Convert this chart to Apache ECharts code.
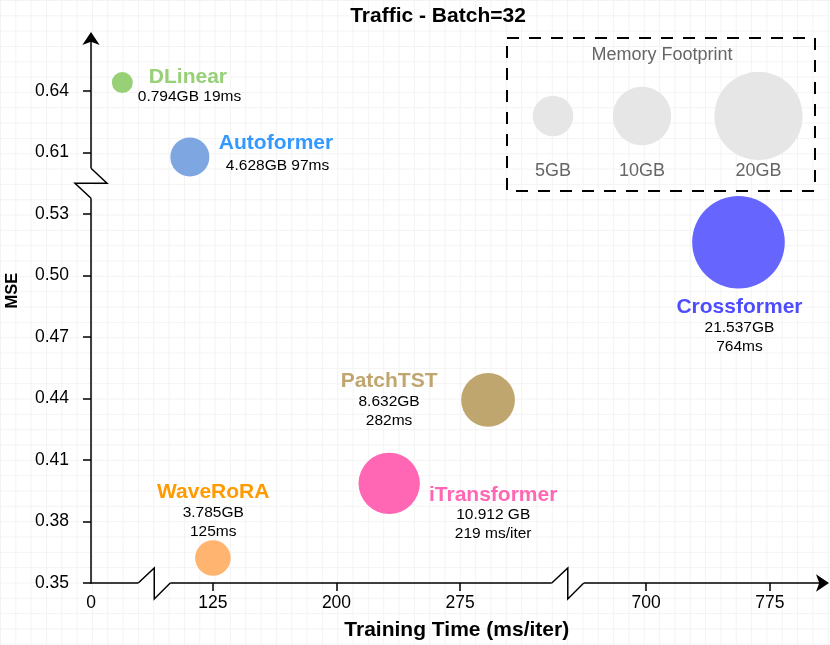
<!DOCTYPE html>
<html><head><meta charset="utf-8">
<script src="https://cdn.jsdelivr.net/npm/echarts@6/dist/echarts.min.js"></script>
<style>
html,body{margin:0;padding:0;background:#fff;}
#c{width:830px;height:645px;
background-image:linear-gradient(to right,#f3f3f3 1px,transparent 1px),linear-gradient(to bottom,#f3f3f3 1px,transparent 1px);
background-size:15.33px 15.33px;background-position:0 0;}
</style></head><body><div id="c"></div>
<script>
// ---------- data ----------
const models = ['DLinear', 'Autoformer', 'WaveRoRA', 'iTransformer', 'PatchTST', 'Crossformer'];
const mse = [0.6441, 0.6078, 0.3622, 0.3986, 0.4393, 0.5162];
// training time as placed on the (broken) x axis of the picture
const trainTimePlotted = [19, 111, 125, 232, 292, 756];
const memoryGB = [0.794, 4.628, 3.785, 10.912, 8.632, 21.537];
const annotations = [
  ['0.794GB 19ms'],
  ['4.628GB 97ms'],
  ['3.785GB', '125ms'],
  ['10.912 GB', '219 ms/iter'],
  ['8.632GB', '282ms'],
  ['21.537GB', '764ms']
];
const xTickValues = [0, 125, 200, 275, 700, 775];
const xTickLabels = ['0', '125', '200', '275', '700', '775'];
const yTickValues = [0.35, 0.38, 0.41, 0.44, 0.47, 0.50, 0.53, 0.61, 0.64];
const yTickLabels = ['0.35', '0.38', '0.41', '0.44', '0.47', '0.50', '0.53', '0.61', '0.64'];
const legendGB = [5, 10, 20];
const legendLabels = ['5GB', '10GB', '20GB'];

// ---------- styles ----------
const bubbleColors = ['#97D077', '#7EA6E0', '#FFB570', '#FF66B3', '#BFA66E', '#6666FF'];
const nameColors   = ['#97D077', '#3399FF', '#FF9A00', '#FF66B3', '#BFA66E', '#4D4DFF'];
const labelLayout = [
  {dx: 15.5, dy: -16,   align: 'left',   namePad: 11, detPad: 0, detLH: 19},
  {dx: 29,   dy: -24.5, align: 'left',   namePad: 0,  detPad: 7, detLH: 25},
  {dx: 0.3,  dy: -76,   align: 'center', namePad: 0,  detPad: 0, detLH: 19},
  {dx: 104,  dy: 1.2,   align: 'center', namePad: 0,  detPad: 0, detLH: 19},
  {dx: -99,  dy: -29,   align: 'center', namePad: 0,  detPad: 0, detLH: 19},
  {dx: 1,    dy: 54.5,  align: 'center', namePad: 0,  detPad: 0, detLH: 19}
];
const FONT = '"Liberation Sans", Arial, Helvetica, sans-serif';
function bubbleSize(gb) { return 14.4 + 7.82 * Math.pow(gb, 0.75); }

// ---------- broken axis helper ----------
const xSegments = [[0, 30], [99, 332], [662, 807]];
const xGap = 18;
const ySegments = [[0.35, 0.545], [0.595, 0.6656]];
const yGap = 0;
function makeBroken(segs, gap) {
  const starts = []; let acc = segs[0][0];
  segs.forEach((s, i) => { starts.push(acc); acc += (s[1] - s[0]) + (i < segs.length - 1 ? gap : 0); });
  return {
    to(v) {
      for (let i = 0; i < segs.length; i++) {
        if (v <= segs[i][1] || i === segs.length - 1) return starts[i] + (v - segs[i][0]);
      }
    },
    min: segs[0][0], max: acc,
    breaks: segs.slice(0, -1).map((s, i) => starts[i] + (s[1] - s[0]) + gap / 2)
  };
}
const X = makeBroken(xSegments, xGap);
const Y = makeBroken(ySegments, yGap);
const xTickDisp = xTickValues.map(v => X.to(v));
const yTickDisp = yTickValues.map(v => Y.to(v));
function nearestLabel(v, disp, labels) {
  let bi = 0, bd = Infinity;
  disp.forEach((d, i) => { const dd = Math.abs(d - v); if (dd < bd) { bd = dd; bi = i; } });
  return labels[bi];
}

const GRID = {left: 91, right: 7.5, top: 38.5, bottom: 62};
const gridH = 645 - GRID.top - GRID.bottom;

const chart = echarts.init(document.getElementById('c'), null, {renderer: 'canvas'});

const seriesData = models.map((m, i) => {
  const L = labelLayout[i];
  const lines = ['{n|' + m + '}'].concat(annotations[i].map(t => '{d|' + t + '}'));
  return {
    name: m,
    value: [X.to(trainTimePlotted[i]), Y.to(mse[i])],
    symbolSize: bubbleSize(memoryGB[i]),
    itemStyle: {color: bubbleColors[i], opacity: 1},
    label: {
      show: true, position: 'inside', offset: [L.dx, L.dy],
      align: L.align, verticalAlign: 'top',
      formatter: lines.join('\n'),
      rich: {
        n: {fontFamily: FONT, fontSize: 21, fontWeight: 'bold', color: nameColors[i], lineHeight: 21, padding: [0, 0, 0, L.namePad]},
        d: {fontFamily: FONT, fontSize: 15.5, color: '#000', lineHeight: L.detLH, padding: [0, 0, 0, L.detPad]}
      }
    }
  };
});

const axisLabelStyle = {color: '#000', fontFamily: FONT, fontSize: 17.5};

chart.setOption({
  backgroundColor: 'transparent',
  animation: false,
  grid: Object.assign({outerBoundsMode: 'none', containLabel: false}, GRID),
  xAxis: [{
    type: 'value', min: X.min, max: X.max,
    name: 'Training Time (ms/iter)', nameLocation: 'middle', nameGap: 37,
    nameTextStyle: {fontFamily: FONT, fontSize: 21, fontWeight: 'bold', color: '#000'},
    axisLine: {show: true, lineStyle: {color: '#000', width: 1.5}, symbol: ['none', 'arrow'], symbolSize: [13, 13], symbolOffset: [0, 6.5]},
    axisTick: {show: true, length: 7, lineStyle: {color: '#000', width: 1.5}, customValues: xTickDisp.slice(1)},
    axisLabel: Object.assign({margin: 11, customValues: xTickDisp, formatter: v => nearestLabel(v, xTickDisp, xTickLabels)}, axisLabelStyle),
    splitLine: {show: false}
  }, {
    type: 'value', min: X.min, max: X.max, position: 'top', offset: -gridH,
    axisLine: {show: false},
    axisTick: {show: true, inside: true, length: 8, lineStyle: {color: '#000', width: 1.5}, customValues: xTickDisp.slice(1)},
    axisLabel: {show: false},
    splitLine: {show: false}
  }],
  yAxis: {
    type: 'value', min: Y.min, max: Y.max,
    axisLine: {show: true, lineStyle: {color: '#000', width: 1.5}, symbol: ['none', 'arrow'], symbolSize: [13, 13], symbolOffset: [0, 6.5]},
    axisTick: {show: true, length: 8, lineStyle: {color: '#000', width: 1.5}, customValues: yTickDisp},
    axisLabel: Object.assign({margin: 22, customValues: yTickDisp, formatter: v => nearestLabel(v, yTickDisp, yTickLabels)}, axisLabelStyle),
    splitLine: {show: false}
  },
  series: [{
    type: 'scatter', xAxisIndex: 0, yAxisIndex: 0,
    data: seriesData,
    emphasis: {disabled: true}
  }]
});

// ---------- decorations: breaks, titles, legend ----------
const g = [];
X.breaks.forEach(b => {
  const p = chart.convertToPixel({gridIndex: 0}, [b, Y.min]);
  const cx = p[0] - 1, y = p[1];
  g.push({type: 'rect', z: 100, shape: {x: cx - 16, y: y - 2, width: 32, height: 4}, style: {fill: '#fff'}});
  g.push({type: 'polyline', z: 101, shape: {points: [[cx - 16, y], [cx, y - 15], [cx, y + 16], [cx + 16, y]]}, style: {stroke: '#000', lineWidth: 1.5, fill: null}});
});
Y.breaks.forEach(b => {
  const p = chart.convertToPixel({gridIndex: 0}, [X.min, b]);
  const x = p[0], cy = p[1];
  g.push({type: 'rect', z: 100, shape: {x: x - 2, y: cy - 15, width: 4, height: 30}, style: {fill: '#fff'}});
  g.push({type: 'polyline', z: 101, shape: {points: [[x, cy - 15], [x + 16, cy], [x - 16, cy], [x, cy + 15]]}, style: {stroke: '#000', lineWidth: 1.5, fill: null}});
});
// chart title
g.push({type: 'text', x: 438, y: 16.5, style: {text: 'Traffic - Batch=32', font: 'bold 21px ' + FONT, fill: '#000', align: 'center', verticalAlign: 'middle'}});
// y axis title
g.push({type: 'text', x: 12.5, y: 290.5, rotation: Math.PI / 2, style: {text: 'MSE', font: 'bold 16.5px ' + FONT, fill: '#000', align: 'center', verticalAlign: 'middle'}});
// memory legend
g.push({type: 'rect', z: 50, shape: {x: 507, y: 38, width: 308, height: 153}, style: {fill: null, stroke: '#000', lineWidth: 2, lineDash: [12, 10]}});
g.push({type: 'text', z: 51, x: 662, y: 55.5, style: {text: 'Memory Footprint', font: '18px ' + FONT, fill: '#666', align: 'center', verticalAlign: 'middle'}});
const legendX = [553, 642, 758.5];
legendGB.forEach((gb, i) => {
  g.push({type: 'circle', z: 51, shape: {cx: legendX[i], cy: 116, r: bubbleSize(gb) / 2}, style: {fill: '#E6E6E6'}});
  g.push({type: 'text', z: 51, x: legendX[i], y: 171.5, style: {text: legendLabels[i], font: '18px ' + FONT, fill: '#666', align: 'center', verticalAlign: 'middle'}});
});
chart.setOption({graphic: g});
</script></body></html>
